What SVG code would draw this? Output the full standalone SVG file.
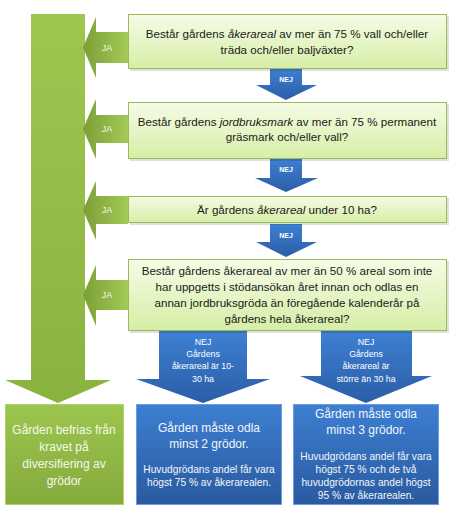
<svg xmlns="http://www.w3.org/2000/svg" width="457" height="513" viewBox="0 0 457 513">
<defs>
<linearGradient id="gq" x1="0" y1="0" x2="0" y2="1"><stop offset="0" stop-color="#f5fce6"/><stop offset="1" stop-color="#d6eea6"/></linearGradient>
<linearGradient id="gbar" x1="0" y1="0" x2="0" y2="1"><stop offset="0" stop-color="#9fc64f"/><stop offset="1" stop-color="#8ab23f"/></linearGradient>
<linearGradient id="gja" x1="0" y1="0" x2="1" y2="0"><stop offset="0" stop-color="#7b9f36"/><stop offset="1" stop-color="#a3ca57"/></linearGradient>
<linearGradient id="ggb" x1="0" y1="0" x2="0" y2="1"><stop offset="0" stop-color="#9cc54e"/><stop offset="1" stop-color="#85ab3d"/></linearGradient>
<linearGradient id="gbl" x1="0" y1="0" x2="0" y2="1"><stop offset="0" stop-color="#3e80d3"/><stop offset="1" stop-color="#2b5da6"/></linearGradient>
<linearGradient id="gbb" x1="0" y1="0" x2="0" y2="1"><stop offset="0" stop-color="#3d7fd1"/><stop offset="1" stop-color="#2a5aa0"/></linearGradient>
</defs>
<style>
.q{fill:url(#gq);stroke:#9bbb59;stroke-width:1}
.sh{fill:#000;opacity:0.12}
.ja{fill:url(#gja)}
.nej{fill:url(#gbl)}
.t{font-family:"Liberation Sans",Arial,sans-serif;font-size:11.6px;fill:#1a1a1a;text-anchor:middle}
.jt{font-family:"Liberation Sans",Arial,sans-serif;font-size:9px;fill:#f4f8ea;text-anchor:middle}
.nt{font-family:"Liberation Sans",Arial,sans-serif;font-size:7px;font-weight:bold;fill:#ffffff;text-anchor:middle}
.bt{font-family:"Liberation Sans",Arial,sans-serif;font-size:8.8px;fill:#ffffff;text-anchor:middle}
.big{font-family:"Liberation Sans",Arial,sans-serif;font-size:12px;fill:#f2f6fb;text-anchor:middle}
.sm{font-family:"Liberation Sans",Arial,sans-serif;font-size:10.2px;fill:#f2f6fb;text-anchor:middle}
.gt{font-family:"Liberation Sans",Arial,sans-serif;font-size:12px;fill:#f4f8ea;text-anchor:middle}
</style>

<g id="connectors">
  <path id="bar" d="M31,14 H85 V380 H111 L58,403 L5,380 H31 Z" fill="url(#gbar)"/>
  <path class="ja" d="M128,32 H96 V17 L83,47.5 L96,78 V63 H128 Z"/>
  <text class="jt" x="107" y="51">JA</text>
  <path class="ja" d="M128,115 H96 V99 L83,129 L96,159 V143 H128 Z"/>
  <text class="jt" x="107" y="132">JA</text>
  <path class="ja" d="M128,196 H96 V181 L83,210 L96,240 V224 H128 Z"/>
  <text class="jt" x="107" y="213">JA</text>
  <path class="ja" d="M128,280 H96 V265 L83,295 L96,326 V310 H128 Z"/>
  <text class="jt" x="107" y="298">JA</text>
  <path class="nej" d="M270,69 H302 V85 H317 L286,100 L256,85 H270 Z"/>
  <text class="nt" x="286" y="82">NEJ</text>
  <path class="nej" d="M270,159 H302 V178 H318 L286,192 L255,178 H270 Z"/>
  <text class="nt" x="286" y="172">NEJ</text>
  <path class="nej" d="M270,224 H302 V242 H317 L286,257 L256,242 H270 Z"/>
  <text class="nt" x="286" y="238">NEJ</text>
  <path class="nej" d="M159,331 H247 V379 H270 L203,403 L136,379 H159 Z"/>
  <text class="bt" x="203" y="345">NEJ</text>
  <text class="bt" x="203" y="357">Gårdens</text>
  <text class="bt" x="203" y="369">åkerareal är 10-</text>
  <text class="bt" x="203" y="382">30 ha</text>
  <path class="nej" d="M321,331 H412 V376 H432 L366,403 L300,376 H321 Z"/>
  <text class="bt" x="366" y="345">NEJ</text>
  <text class="bt" x="366" y="357">Gårdens</text>
  <text class="bt" x="366" y="369">åkerareal är</text>
  <text class="bt" x="366" y="382">större än 30 ha</text>
</g>

<g id="q1">
  <rect class="sh" x="130" y="16" width="319" height="55"/>
  <rect class="q" x="128.5" y="14.5" width="318" height="54"/>
  <text class="t" x="287" y="38">Består gårdens <tspan font-style="italic">åkerareal</tspan> av mer än 75 % vall och/eller</text>
  <text class="t" x="287" y="54">träda och/eller baljväxter?</text>
</g>
<g id="q2">
  <rect class="sh" x="130" y="104" width="319" height="57"/>
  <rect class="q" x="128.5" y="102.5" width="318" height="56"/>
  <text class="t" x="287" y="126">Består gårdens <tspan font-style="italic">jordbruksmark</tspan> av mer än 75 % permanent</text>
  <text class="t" x="287" y="141">gräsmark och/eller vall?</text>
</g>
<g id="q3">
  <rect class="sh" x="130" y="198" width="319" height="27"/>
  <rect class="q" x="128.5" y="196.5" width="318" height="26"/>
  <text class="t" x="287" y="214">Är gårdens <tspan font-style="italic">åkerareal</tspan> under 10 ha?</text>
</g>
<g id="q4">
  <rect class="sh" x="130" y="261" width="319" height="72"/>
  <rect class="q" x="128.5" y="259.5" width="318" height="71"/>
  <text class="t" x="287" y="275">Består gårdens åkerareal av mer än 50 % areal som inte</text>
  <text class="t" x="287" y="291">har uppgetts i stödansökan året innan och odlas en</text>
  <text class="t" x="287" y="307">annan jordbruksgröda än föregående kalenderår på</text>
  <text class="t" x="287" y="323">gårdens hela åkerareal?</text>
</g>

<g id="g1">
  <rect x="5.5" y="404.5" width="118" height="100" fill="url(#ggb)" stroke="#b3d26e" stroke-width="1"/>
  <text class="gt" x="64" y="434">Gården befrias från</text>
  <text class="gt" x="64" y="451">kravet på</text>
  <text class="gt" x="64" y="468">diversifiering av</text>
  <text class="gt" x="64" y="485">grödor</text>
</g>
<g id="b1">
  <rect x="136.5" y="404.5" width="145" height="100" fill="url(#gbb)" stroke="#6b9be0" stroke-width="1"/>
  <text class="big" x="209" y="432">Gården måste odla</text>
  <text class="big" x="209" y="448">minst 2 grödor.</text>
  <text class="sm" x="209" y="473">Huvudgrödans andel får vara</text>
  <text class="sm" x="209" y="486">högst 75 % av åkerarealen.</text>
</g>
<g id="b2">
  <rect x="293.5" y="404.5" width="145" height="100" fill="url(#gbb)" stroke="#6b9be0" stroke-width="1"/>
  <text class="big" x="366" y="418">Gården måste odla</text>
  <text class="big" x="366" y="434">minst 3 grödor.</text>
  <text class="sm" x="366" y="460">Huvudgrödans andel får vara</text>
  <text class="sm" x="366" y="473">högst 75 % och de två</text>
  <text class="sm" x="366" y="486">huvudgrödornas andel högst</text>
  <text class="sm" x="366" y="499">95 % av åkerarealen.</text>
</g>
</svg>
